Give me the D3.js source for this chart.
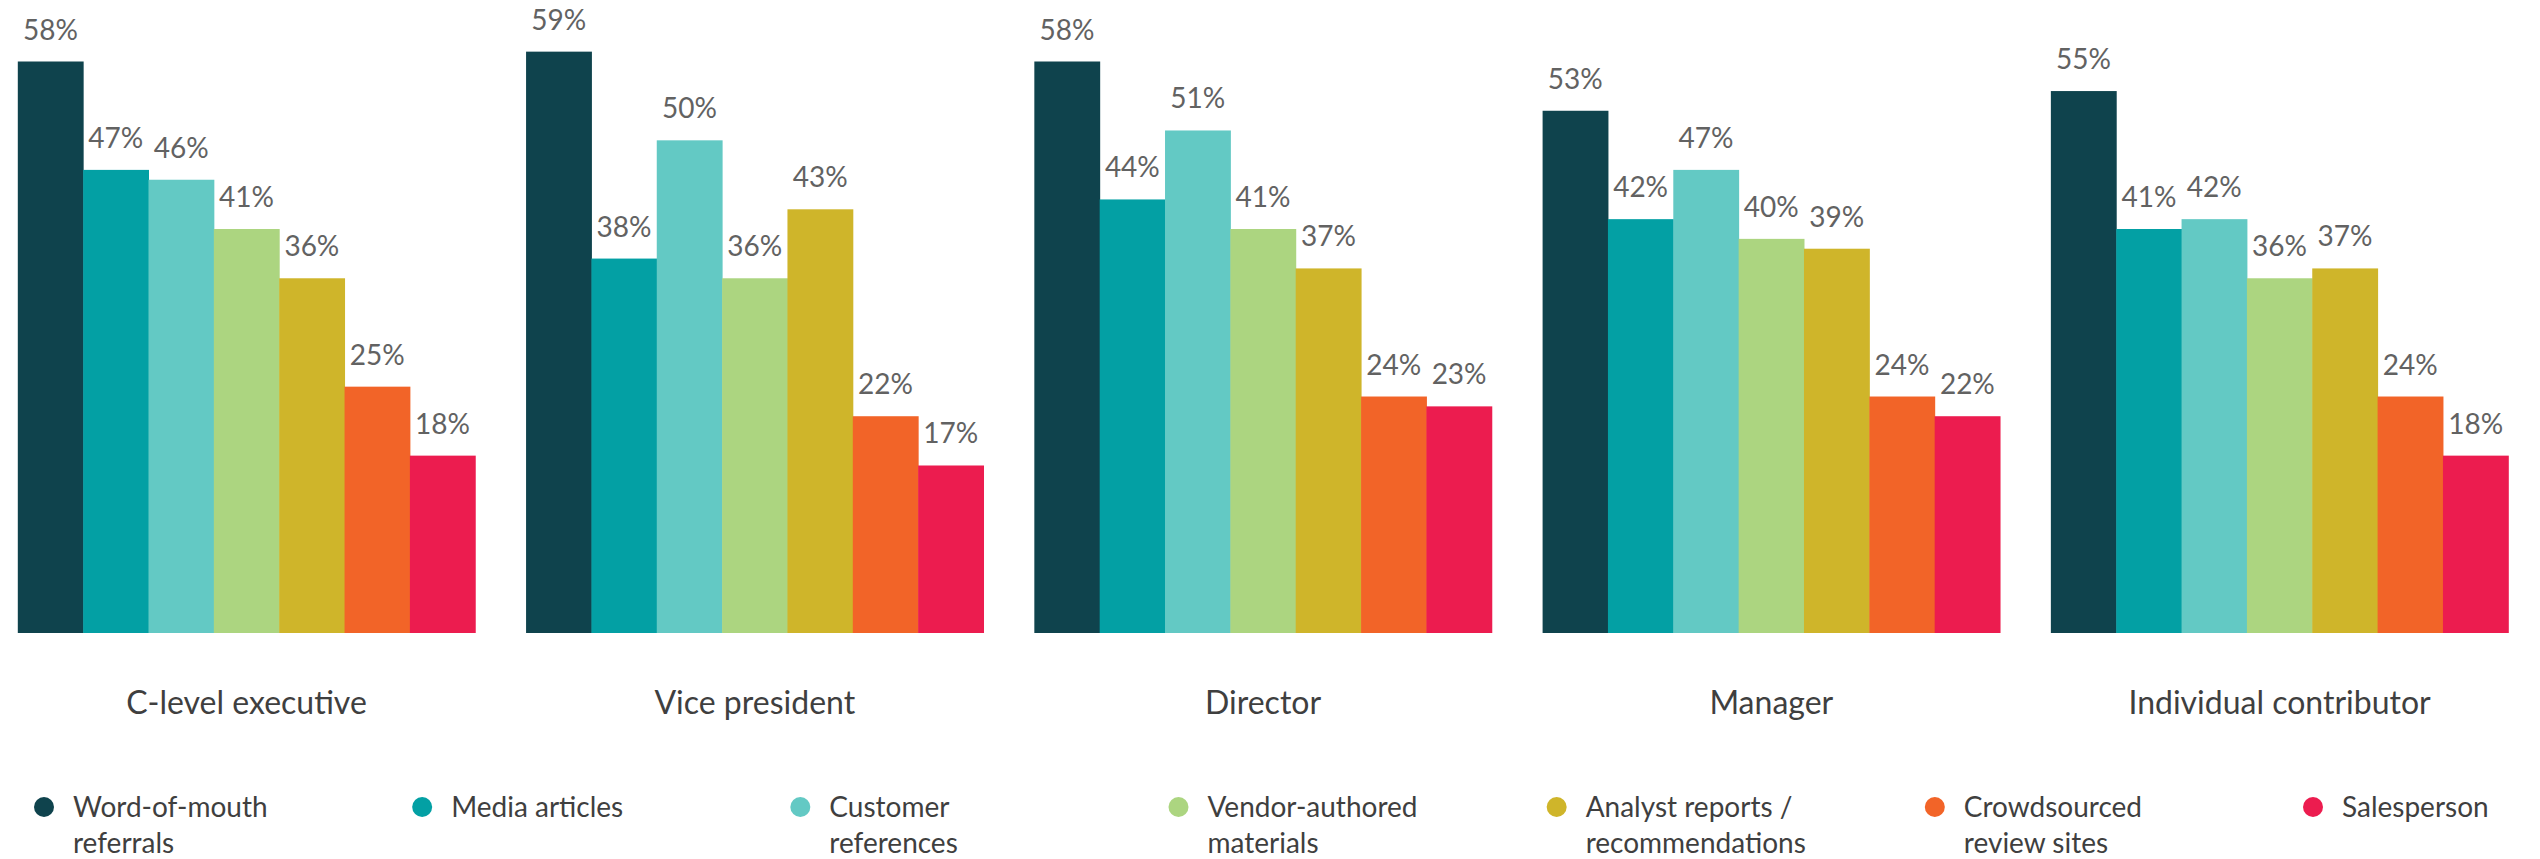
<!DOCTYPE html>
<html>
<head>
<meta charset="utf-8">
<script src="https://cdn.jsdelivr.net/npm/d3@7"></script>
<style>
  body { margin: 0; background: #fff; }
  svg { display: block; font-family: Lato, "Open Sans", sans-serif; }
</style>
</head>
<body>
<script>
// groups along the x axis
var groups = ["C-level executive", "Vice president", "Director", "Manager", "Individual contributor"];
// series (one bar per series in every group)
var series = ["Word-of-mouth referrals", "Media articles", "Customer references", "Vendor-authored materials",
              "Analyst reports / recommendations", "Crowdsourced review sites", "Salesperson"];
// legend text broken into lines as in the picture
var legendLines = [["Word-of-mouth", "referrals"], ["Media articles"], ["Customer", "references"],
                   ["Vendor-authored", "materials"], ["Analyst reports /", "recommendations"],
                   ["Crowdsourced", "review sites"], ["Salesperson"]];
var colors = ["#0f434d", "#03a0a4", "#63c9c4", "#acd580", "#cfb52a", "#f26428", "#ec1c4f"];

// percent values, one array per group, in series order
var cLevel     = [58, 47, 46, 41, 36, 25, 18];
var vicePres   = [59, 38, 50, 36, 43, 22, 17];
var director   = [58, 44, 51, 41, 37, 24, 23];
var manager    = [53, 42, 47, 40, 39, 24, 22];
var individual = [55, 41, 42, 36, 37, 24, 18];
var values = [cLevel, vicePres, director, manager, individual];

window.onload = function()
{
  var width = 2540, height = 859;

  var svg = d3.select("body")
    .append("svg")
    .attr("width", width)
    .attr("height", height);

  var x0 = d3.scaleBand()
    .domain(groups)
    .range([17.8, 2508.3])
    .paddingInner(0.1)
    .paddingOuter(0);

  var x1 = d3.scaleBand()
    .domain(series)
    .range([0, x0.bandwidth()]);

  var y = d3.scaleLinear()
    .domain([0, 58])
    .range([633, 61.5]);

  var color = d3.scaleOrdinal().domain(series).range(colors);

  var g = svg.selectAll("g.group")
    .data(groups)
    .enter()
    .append("g")
    .attr("class", "group")
    .attr("transform", function(d) { return "translate(" + x0(d) + ",0)"; });

  var rows = function(d, gi) {
    return series.map(function(s, i) { return { s: s, v: values[gi][i] }; });
  };

  g.selectAll("rect")
    .data(function(d) { return rows(d, groups.indexOf(d)); })
    .enter()
    .append("rect")
    .attr("x", function(d) { return x1(d.s); })
    .attr("y", function(d) { return y(d.v); })
    .attr("width", x1.bandwidth() + 0.5)
    .attr("height", function(d) { return y(0) - y(d.v); })
    .attr("fill", function(d) { return color(d.s); });

  g.selectAll("text.val")
    .data(function(d) { return rows(d, groups.indexOf(d)); })
    .enter()
    .append("text")
    .attr("class", "val")
    .attr("x", function(d) { return x1(d.s) + x1.bandwidth() / 2; })
    .attr("y", function(d) { return y(d.v) - 22; })
    .attr("text-anchor", "middle")
    .attr("font-size", 28)
    .attr("fill", "#626262")
    .text(function(d) { return d.v + "%"; });

  // group names under the bars
  g.append("text")
    .attr("x", x0.bandwidth() / 2)
    .attr("y", 714)
    .attr("text-anchor", "middle")
    .attr("font-size", 32)
    .attr("fill", "#3f3f3f")
    .text(function(d) { return d; });

  // legend
  var lx = d3.scalePoint().domain(series).range([44, 2313]);

  var leg = svg.selectAll("g.legend")
    .data(series)
    .enter()
    .append("g")
    .attr("class", "legend")
    .attr("transform", function(d) { return "translate(" + lx(d) + ",807)"; });

  leg.append("circle")
    .attr("r", 10)
    .attr("fill", function(d) { return color(d); });

  leg.append("text")
    .attr("x", 29)
    .attr("y", 10)
    .attr("font-size", 28)
    .attr("fill", "#3f3f3f")
    .selectAll("tspan")
    .data(function(d, i) { return legendLines[series.indexOf(d)]; })
    .enter()
    .append("tspan")
    .attr("x", 29)
    .attr("dy", function(d, i) { return i == 0 ? 0 : 36; })
    .text(function(d) { return d; });
}
</script>
</body>
</html>
